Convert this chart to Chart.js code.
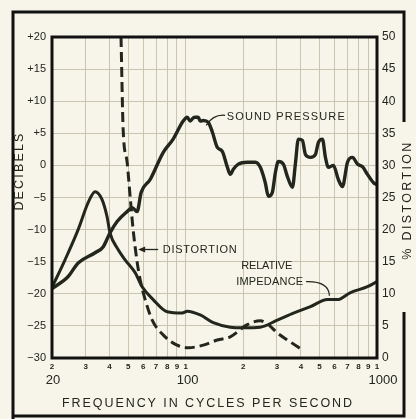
<!DOCTYPE html>
<html><head><meta charset="utf-8">
<script src="https://cdn.jsdelivr.net/npm/chart.js@4"></script>
<style>html,body{margin:0;padding:0;background:#f7f5ea;}canvas{display:block}</style>
</head><body>
<div style="width:416px;height:419px"><canvas id="c" width="416" height="419"></canvas></div>
<script>
// ---- data ----
const freqTicks = [20,30,40,50,60,70,80,90,100,200,300,400,500,600,700,800,900,1000];
const freqTickDigits = ['2','3','4','5','6','7','8','9','1','2','3','4','5','6','7','8','9','1'];
const decadeLabels = ['20','100','1000'];
const decadeValues = [20,100,1000];

const soundFreq = [20,24.3,27.4,33.6,37,40.2,43.8,49.4,52.5,55.7,58.5,65.2,76.2,86,97,101.9,105.6,109.5,112.2,116.2,119.1,123.5,131.3,137.8,146.3,155.3,164.8,171,177.4,188.4,209.9,231.2,245.5,260.6,270.4,283.7,294.3,304.9,323.9,339.8,361.4,374.3,388.2,407.5,422.6,448.9,476.3,494,518.6,537.5,557,591.5,628.1,659.7,701,744.6,790.8,839.5,891.7,959.2,1000];
const soundDb =   [-19.2,-17.3,-15.2,-13.6,-12.7,-10.5,-8.75,-7.2,-6.6,-7.2,-4.2,-2.2,2.0,4.1,6.9,7.5,6.9,7.4,7.5,7.5,6.9,7.0,6.7,5.2,2.8,2.2,-0.2,-1.4,-0.6,0.2,0.5,0.5,-0.3,-2.7,-4.8,-4.2,-1.1,0.6,0.2,-1.7,-3.4,0.2,4.1,3.9,1.7,1.25,1.7,3.6,4.1,1.25,-0.3,0.0,-2.2,-3.3,0.5,1.25,0.2,-0.2,-1.4,-2.7,-3.0];

const impFreq = [20,23.4,27.4,30.9,33.6,36.5,38.8,40.2,44.3,48.2,54.4,59.2,67.6,80,95.9,101.9,119.1,139.3,171,200,245.5,301.3,365.6,448.9,550.5,620.9,727,891.7,1000];
const impDb =   [-19.0,-14.7,-10.0,-5.8,-4.1,-5.3,-8.0,-10.5,-13.1,-14.7,-16.7,-18.9,-20.9,-22.8,-23.0,-22.7,-23.3,-24.5,-25.2,-25.3,-25.2,-24.1,-23.0,-22.0,-20.9,-20.9,-19.8,-18.9,-18.1];

const distFreq = [45.9,47.1,49.4,51.2,53.1,55.7,57.8,61.4,66.8,76.2,90.2,103,123.5,146.3,171,209.9,245.5,270.4,301.3,352.5,407.5];
const distPct =  [50,35.6,30.5,25.2,20.0,15.0,12.2,9.1,5.9,3.6,2.0,1.6,2.0,2.8,3.3,5.2,5.8,5.2,3.9,2.5,1.25];

const ink = '#23261d';
const gridCol = '#c9c5ae';
const FONT = '"Liberation Sans", Arial, sans-serif';

function pts(xs, ys){ return xs.map((x,i)=>({x:x, y:ys[i]})); }

const textPlugin = {
  id:'texts',
  afterDraw(chart){
    const ctx = chart.ctx, xs = chart.scales.x, ys = chart.scales.y, a = chart.chartArea;
    const P = (f,d)=>[xs.getPixelForValue(f), ys.getPixelForValue(d)];
    ctx.save();
    // plot frame
    ctx.strokeStyle = '#111'; ctx.lineWidth = 3;
    ctx.strokeRect(a.left, a.top, a.right-a.left, a.bottom-a.top);
    // outer frame
    ctx.lineWidth = 3;
    ctx.beginPath();
    ctx.moveTo(13, 419); ctx.lineTo(13, 12); ctx.lineTo(404, 12); ctx.lineTo(404, 122);
    ctx.moveTo(404, 312); ctx.lineTo(404, 416); ctx.lineTo(13,416);
    ctx.stroke();
    ctx.fillStyle = ink;
    // decade labels
    ctx.font = '13px ' + FONT; ctx.textAlign='center'; ctx.textBaseline='middle';
    const offs = [1,2,6];
    decadeValues.forEach((v,i)=>{ ctx.fillText(decadeLabels[i], xs.getPixelForValue(v)+offs[i], 380); });
    function spaced(t, cx, cy, w, size){
      ctx.font = size+'px '+FONT;
      const m = ctx.measureText(t).width;
      ctx.letterSpacing = ((w-m)/(t.length-1)).toFixed(2)+'px';
      ctx.textAlign='center';
      ctx.fillText(t, cx, cy);
      ctx.letterSpacing = '0px';
    }
    spaced('FREQUENCY IN CYCLES PER SECOND', 208, 404, 290, 12.5);
    ctx.save(); ctx.translate(20, 171); ctx.rotate(-Math.PI/2);
    spaced('DECIBELS', 0, 0, 77, 12.5); ctx.restore();
    ctx.save(); ctx.translate(408, 200); ctx.rotate(-Math.PI/2);
    spaced('% DISTORTION', 0, 0, 117, 12.5); ctx.restore();
    // annotations
    let p = P(165, 7.6);
    spaced('SOUND PRESSURE', p[0]+59, p[1], 118, 11);
    p = P(76.2,-13.1);
    spaced('DISTORTION', p[0]+37, p[1], 74, 11);
    p = P(265,-15.6); spaced('RELATIVE', p[0], p[1], 51, 11);
    p = P(275,-18.1); spaced('IMPEDANCE', p[0], p[1], 67, 11);
    // leaders
    ctx.strokeStyle = ink; ctx.lineWidth = 1.3;
    let s = P(128,6.25), c = P(140,8.0), e = P(160.6,7.8);
    ctx.beginPath(); ctx.moveTo(s[0],s[1]); ctx.quadraticCurveTo(c[0],c[1],e[0],e[1]); ctx.stroke();
    s = P(71.8,-13.1); e = P(56.4,-13.1);
    ctx.beginPath(); ctx.moveTo(s[0],s[1]); ctx.lineTo(e[0]+4,e[1]); ctx.stroke();
    ctx.beginPath(); ctx.moveTo(e[0],e[1]); ctx.lineTo(e[0]+7,e[1]-3); ctx.lineTo(e[0]+7,e[1]+3); ctx.closePath(); ctx.fill();
    s = P(426,-18.1); c = P(560,-18.0); e = P(564,-20.3);
    ctx.beginPath(); ctx.moveTo(s[0],s[1]); ctx.quadraticCurveTo(c[0],c[1],e[0],e[1]); ctx.stroke();
    ctx.restore();
  }
};

new Chart(document.getElementById('c'), {
  type:'scatter',
  data:{ datasets:[
    {label:'Sound pressure', data:pts(soundFreq,soundDb), yAxisID:'y', showLine:true, borderColor:ink, borderWidth:3.4, pointRadius:0, cubicInterpolationMode:'monotone', borderCapStyle:'round', borderJoinStyle:'round'},
    {label:'Relative impedance', data:pts(impFreq,impDb), yAxisID:'y', showLine:true, borderColor:ink, borderWidth:3, pointRadius:0, cubicInterpolationMode:'monotone', borderCapStyle:'round'},
    {label:'Distortion', data:pts(distFreq,distPct), yAxisID:'y2', showLine:true, borderColor:ink, borderWidth:3, borderDash:[10,5], pointRadius:0, cubicInterpolationMode:'monotone'}
  ]},
  options:{
    responsive:false, devicePixelRatio:1, animation:false,
    layout:{padding:{top:37,left:0,right:0,bottom:0}},
    plugins:{legend:{display:false}, tooltip:{enabled:false}},
    scales:{
      x:{type:'logarithmic', min:20, max:1000, position:'bottom',
        afterBuildTicks(ax){ ax.ticks = freqTicks.map(v=>({value:v})); },
        afterFit(ax){ ax.height = 61; },
        grid:{color:gridCol, lineWidth:1, drawTicks:false},
        border:{display:false},
        ticks:{autoSkip:false, maxRotation:0, padding:4, color:ink, font:{family:FONT, size:8, weight:'bold'},
          callback(v, i){ return freqTickDigits[i]; }}
      },
      y:{type:'linear', min:-30, max:20, position:'left',
        afterFit(ax){ ax.width = 52; },
        grid:{color:gridCol, lineWidth:1, drawTicks:false},
        border:{display:false},
        ticks:{stepSize:5, padding:6, color:ink, font:{family:FONT, size:11},
          callback(v){ return v>0 ? '+'+v : (v<0 ? '\u2212'+Math.abs(v) : '0'); }}
      },
      y2:{type:'linear', min:0, max:50, position:'right',
        afterFit(ax){ ax.width = 39; },
        grid:{display:false, drawTicks:false},
        border:{display:false},
        ticks:{stepSize:5, padding:5, color:ink, font:{family:FONT, size:12}}
      }
    }
  },
  plugins:[textPlugin]
});
</script>
</body></html>
